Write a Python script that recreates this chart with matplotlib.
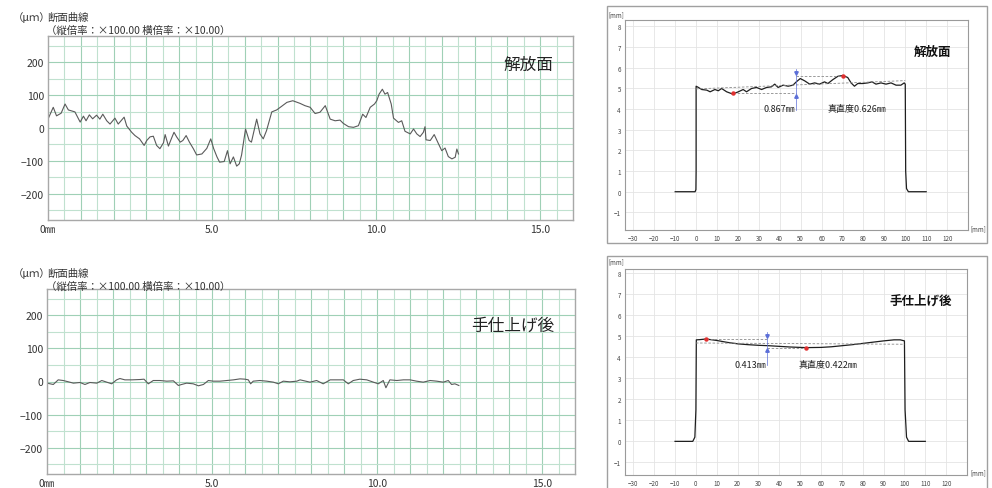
import matplotlib
matplotlib.use('Agg')
import matplotlib.pyplot as plt
from matplotlib.patches import Rectangle
import numpy as np

plt.rcParams['font.family'] = ['Noto Sans CJK JP', 'DejaVu Sans']

# ---------------- data ----------------
# 断面曲線 (解放面), x in mm, y in µm
tl_x = [0, 0.16, 0.26, 0.4, 0.52, 0.62, 0.82, 0.98, 1.08, 1.16, 1.26, 1.36, 1.48, 1.58, 1.67,
        1.79, 1.89, 2.04, 2.14, 2.32, 2.40, 2.55, 2.65, 2.79, 2.93, 3.01, 3.11, 3.21, 3.31,
        3.41, 3.52, 3.57, 3.67, 3.77, 3.84, 3.92, 4.03, 4.11, 4.21, 4.31, 4.43, 4.53, 4.69,
        4.84, 4.96, 5.05, 5.15, 5.23, 5.37, 5.47, 5.55, 5.65, 5.75, 5.83, 5.90, 6.02, 6.13,
        6.20, 6.36, 6.46, 6.56, 6.66, 6.82, 6.97, 7.12, 7.28, 7.46, 7.68, 7.83, 7.99, 8.14,
        8.29, 8.45, 8.60, 8.75, 8.90, 9.00, 9.16, 9.31, 9.46, 9.59, 9.69, 9.82, 9.95, 10.02,
        10.09, 10.19, 10.27, 10.35, 10.46, 10.53, 10.68, 10.78, 10.88, 11.04, 11.14, 11.24,
        11.34, 11.44, 11.49, 11.52, 11.65, 11.77, 11.90, 12.00, 12.10, 12.20, 12.31, 12.41,
        12.46, 12.51]
tl_y = [27, 63, 37, 45, 73, 55, 49, 18, 36, 22, 40, 28, 39, 27, 42,
        22, 12, 30, 12, 33, 6, -13, -23, -33, -53, -38, -27, -25, -53,
        -63, -45, -20, -55, -30, -13, -27, -43, -38, -23, -43, -63, -82, -79,
        -62, -33, -63, -88, -104, -102, -69, -109, -88, -116, -109, -82, -3, -38,
        -43, 27, -18, -33, -8, 49, 55, 66, 78, 83, 75, 68, 63, 44,
        48, 68, 27, 22, 24, 14, 4, 2, 7, 42, 32, 63, 73, 83,
        103, 118, 103, 108, 73, 30, 17, 22, -10, -18, -3, -18,
        -26, -13, 4, -36, -38, -20, -48, -69, -61, -87, -94, -89,
        -64, -79]

# 断面曲線 (手仕上げ後)
bl_x = [0, 0.19, 0.34, 0.49, 0.65, 0.80, 1.00, 1.15, 1.30, 1.51, 1.66, 1.81, 1.96, 2.11, 2.21,
        2.36, 2.57, 2.82, 2.94, 3.07, 3.22, 3.42, 3.63, 3.83, 3.98, 4.08, 4.23, 4.43, 4.59,
        4.74, 4.89, 5.04, 5.24, 5.45, 5.65, 5.85, 6.00, 6.10, 6.17, 6.25, 6.45, 6.66, 6.86,
        7.01, 7.16, 7.36, 7.57, 7.67, 7.97, 8.17, 8.37, 8.58, 8.78, 8.98, 9.13, 9.28, 9.48,
        9.69, 9.89, 10.04, 10.19, 10.27, 10.39, 10.60, 10.80, 11.00, 11.20, 11.40, 11.61,
        11.81, 12.01, 12.16, 12.26, 12.36, 12.48]
bl_y = [-5, -9, 5, 3, -1, -5, -3, -9, -3, -5, 3, -2, -7, 5, 9,
        5, 5, 6, 7, -7, 3, 3, 1, 2, -12, -9, -5, -7, -13,
        -9, 3, 1, 1, 3, 5, 8, 7, 5, -7, 1, 3, 1, -2,
        -7, 1, -1, 1, 5, -2, 3, -7, 5, 5, 5, -7, 3, 7,
        5, -2, -7, 3, -19, 5, 3, 5, 5, 1, -2, 3,
        1, -2, 3, -9, -7, -12]

# 真直度 profiles, x and y in mm
tr_x = [-10, -0.5, -0.1, 0, 0, 1.1, 2.7, 5.1, 6.7, 9.0, 10.6, 12.2, 14.6, 17.5, 20.2, 22.5,
        24.1, 26.5, 28.9, 31.3, 33.7, 36.0, 37.6, 39.2, 41.6, 44.0, 46.3, 47.9, 49.8, 51.9,
        54.3, 56.7, 59.0, 61.4, 63.0, 65.4, 67.8, 70.2, 72.5, 74.1, 75.7, 77.3, 79.7, 82.1,
        84.1, 86.0, 88.4, 90.8, 93.2, 95.6, 97.9, 99.5, 100, 100.2, 100.6, 101.5, 110]
tr_y = [0, 0, 0.1, 1.0, 5.10, 5.04, 4.94, 4.91, 4.83, 4.94, 4.88, 4.99, 4.83, 4.72, 4.83, 4.94,
        4.83, 4.99, 5.04, 4.94, 5.04, 5.07, 5.20, 5.04, 5.15, 5.10, 5.15, 5.31, 5.47, 5.36,
        5.20, 5.26, 5.20, 5.31, 5.23, 5.42, 5.58, 5.62, 5.52, 5.26, 5.10, 5.23, 5.23, 5.26,
        5.31, 5.20, 5.26, 5.20, 5.26, 5.15, 5.15, 5.26, 5.20, 1.0, 0.15, 0, 0]

br_x = [-10, -1.5, -0.5, 0, 0.2, 1.9, 4.8, 10, 15, 20, 25, 30, 35, 40, 45, 50, 53, 60, 65,
        70, 75, 80, 85, 90, 95, 98, 100, 100.3, 101, 102, 110]
br_y = [0, 0, 0.2, 1.5, 4.83, 4.84, 4.87, 4.80, 4.71, 4.64, 4.60, 4.57, 4.55, 4.52, 4.49,
        4.47, 4.46, 4.47, 4.50, 4.55, 4.60, 4.66, 4.72, 4.78, 4.83, 4.83, 4.78, 1.5, 0.2, 0, 0]

# straightness markers: (x_low, y_low), (x_high, y_high), arrow x, fit line ends
tr_low, tr_high, tr_arrow_x, tr_fit = (17.5, 4.75), (70.2, 5.60), 47.9, ((0, 100), (4.97, 5.37))
br_high, br_low, br_arrow_x, br_fit = (4.8, 4.87), (53, 4.46), 34.3, ((0, 100), (4.68, 4.62))

left_xticks = [0, 5, 10, 15]
left_xlabels = ['0㎜', '5.0', '10.0', '15.0']
left_yticks = [-200, -100, 0, 100, 200]

# ---------------- figure ----------------
W, H = 992, 489
fig = plt.figure(figsize=(W / 100, H / 100), dpi=100)


def ax_px(l, t, r, b):
    return fig.add_axes([l / W, 1 - b / H, (r - l) / W, (b - t) / H])


def fig_text(x, y, s, **kw):
    fig.text(x / W, 1 - y / H, s, **kw)


GRID_MAJ = '#9fd0b6'
GRID_MIN = '#c0e1cf'


def left_chart(ax, x, y, label, lx, ly):
    ax.set_xlim(0, 16)
    ax.set_ylim(-280, 280)
    for v in np.arange(0.5, 16, 1.0):
        ax.axvline(v, color=GRID_MIN, lw=0.8, zorder=0)
    for v in np.arange(1, 16, 1.0):
        ax.axvline(v, color=GRID_MAJ, lw=0.8, zorder=0)
    for v in np.arange(-250, 251, 100):
        ax.axhline(v, color=GRID_MIN, lw=0.8, zorder=0)
    for v in np.arange(-200, 201, 100):
        ax.axhline(v, color=GRID_MAJ, lw=0.8, zorder=0)
    ax.set_xticks(left_xticks)
    ax.set_xticklabels(left_xlabels)
    ax.set_yticks(left_yticks)
    ax.tick_params(which='both', length=0, labelsize=7.5, colors='#333333')
    ax.tick_params(axis='x', pad=3)
    ax.tick_params(axis='y', pad=3)
    for s in ax.spines.values():
        s.set_color('#a8a8a8')
        s.set_linewidth(1.0)
    ax.plot(x, y, color='#5a5a5a', lw=0.8)
    ax.text(lx, ly, label, fontsize=12, ha='center', va='center', color='#222222')


ax1 = ax_px(48, 37, 573, 221)
left_chart(ax1, tl_x, tl_y, '解放面', 14.63, 194)
ax2 = ax_px(47, 290, 575, 475)
left_chart(ax2, bl_x, bl_y, '手仕上げ後', 14.12, 169)

for y0 in (0, 256):
    fig_text(13, 18 + y0, '（μｍ）', fontsize=7.5, va='center', color='#333333')
    fig_text(47, 18 + y0, '断面曲線', fontsize=7.5, va='center', color='#333333')
    fig_text(46, 31 + y0, '（縦倍率：×100.00 横倍率：×10.00）', fontsize=7.5, va='center',
             color='#333333')

# frames of the right panels
for (l, t, r, b) in [(607, 7, 987, 244), (607, 257, 987, 492)]:
    fig.patches.append(Rectangle((l / W, 1 - b / H), (r - l) / W, (b - t) / H,
                                 transform=fig.transFigure, fill=False,
                                 edgecolor='#a0a0a0', lw=1.0))

BLUE = '#5c6fd8'


def right_chart(ax, x, y, ylim, label, left_txt, right_txt, txt_y, arrow_x, up_pt, low_pt,
                fit, seg_hi, seg_lo):
    ax.set_xlim(-34, 130)
    ax.set_ylim(*ylim)
    ax.set_xticks(range(-30, 121, 10))
    ax.set_yticks(range(-1, 9))
    ax.grid(color='#e4e4e4', lw=0.6)
    ax.set_axisbelow(True)
    ax.tick_params(length=0, labelsize=4.5, pad=3, colors='#444444')
    for s in ax.spines.values():
        s.set_color('#9a9a9a')
        s.set_linewidth(0.8)
    ax.plot(x, y, color='#1e1e1e', lw=0.9)
    ax.plot(fit[0], fit[1], color='#8a8a8a', lw=0.6, ls=(0, (3, 2)))
    ax.plot(seg_hi[0], seg_hi[1], color='#8a8a8a', lw=0.6, ls=(0, (3, 2)))
    ax.plot(seg_lo[0], seg_lo[1], color='#8a8a8a', lw=0.6, ls=(0, (3, 2)))
    ax.plot([arrow_x, arrow_x], [txt_y - 0.05, up_pt[1] + 0.35], color=BLUE, lw=0.5)
    ax.plot([arrow_x], [up_pt[1] + 0.12], marker='v', ms=2.5, color=BLUE)
    ax.plot([arrow_x], [low_pt[1] - 0.12], marker='^', ms=2.5, color=BLUE)
    ax.plot([up_pt[0], low_pt[0]], [up_pt[1], low_pt[1]], 'o', ms=2.2, color='#e03030', ls='none')
    ax.text(arrow_x - 0.5, txt_y, left_txt, fontsize=6.5, ha='right', va='center', color='#222')
    ax.text(arrow_x + 15, txt_y, right_txt, fontsize=6.5, ha='left', va='center', color='#222')
    ax.text(label[1], label[2], label[0], fontsize=9, fontweight='bold', ha='center',
            va='center', color='#111')


ax3 = ax_px(625, 21, 968, 231)
right_chart(ax3, tr_x, tr_y, (-1.85, 8.3), ('解放面', 113, 6.78), '0.867㎜', '真直度0.626㎜', 4.0,
            tr_arrow_x, tr_high, tr_low, tr_fit,
            ([tr_arrow_x, tr_high[0]], [tr_high[1], tr_high[1]]),
            ([tr_low[0], tr_arrow_x], [tr_low[1], tr_low[1]]))

ax4 = ax_px(625, 270, 967, 476)
right_chart(ax4, br_x, br_y, (-1.6, 8.2), ('手仕上げ後', 108, 6.73), '0.413㎜', '真直度0.422㎜', 3.68,
            br_arrow_x, br_high, br_low, br_fit,
            ([br_high[0], br_arrow_x], [br_high[1], br_high[1]]),
            ([br_arrow_x, br_low[0]], [br_low[1], br_low[1]]))

for (x0, y0, x1, y1) in [(608, 15, 970, 229), (608, 262, 970, 473)]:
    fig_text(x0, y0, '[mm]', fontsize=4.5, va='center', ha='left', color='#444')
    fig_text(x1, y1, '[mm]', fontsize=4.5, va='center', ha='left', color='#444')

fig.savefig('out.png', dpi=100, facecolor='white')
